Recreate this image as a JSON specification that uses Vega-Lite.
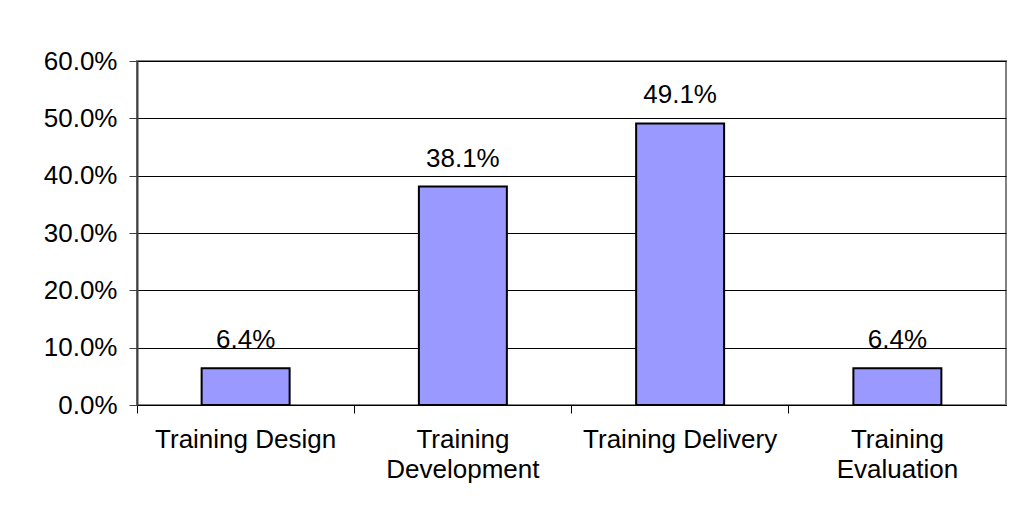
{
  "$schema": "https://vega.github.io/schema/vega-lite/v6.json",
  "autosize": "none",
  "width": 869,
  "height": 344,
  "padding": {"left": 137, "top": 61, "right": 18, "bottom": 120},
  "background": "white",
  "config": {
    "font": "Liberation Sans",
    "view": {"stroke": "#808080", "strokeWidth": 2},
    "axis": {
      "labelFont": "Liberation Sans",
      "labelFontSize": 26,
      "labelColor": "black",
      "titleFont": "Liberation Sans"
    }
  },
  "data": {
    "values": [
      {"category": "Training Design", "share": 0.064},
      {"category": "Training Development", "share": 0.381},
      {"category": "Training Delivery", "share": 0.491},
      {"category": "Training Evaluation", "share": 0.064}
    ]
  },
  "encoding": {
    "x": {
      "field": "category",
      "type": "nominal",
      "sort": null,
      "scale": {"paddingInner": 0, "paddingOuter": 0},
      "axis": {
        "title": null,
        "labelAngle": 0,
        "labelLimit": 0,
        "labelPadding": 13,
        "labelLineHeight": 30,
        "labelBaseline": "top",
        "labelExpr": "length(datum.label) > 17 ? split(datum.label, ' ') : datum.label",
        "bandPosition": 0,
        "tickSize": 8,
        "tickColor": "black",
        "tickWidth": 1,
        "domainColor": "black",
        "domainWidth": 1,
        "grid": false
      }
    },
    "y": {
      "field": "share",
      "type": "quantitative",
      "scale": {"domain": [0, 0.6], "nice": false},
      "axis": {
        "title": null,
        "values": [0, 0.1, 0.2, 0.3, 0.4, 0.5, 0.6],
        "format": ".1%",
        "labelPadding": 12,
        "tickSize": 8,
        "tickColor": "#404040",
        "tickWidth": 1,
        "domainColor": "#404040",
        "domainWidth": 2,
        "grid": true,
        "gridColor": "black",
        "gridWidth": 1,
        "gridOpacity": 1
      }
    }
  },
  "layer": [
    {
      "mark": {"type": "bar", "width": {"band": 0.405}, "fill": "#9999FF", "stroke": "black", "strokeWidth": 2}
    },
    {
      "mark": {"type": "text", "dy": -20, "baseline": "alphabetic", "fontSize": 26, "color": "black", "font": "Liberation Sans"},
      "encoding": {
        "text": {"field": "share", "type": "quantitative", "format": ".1%"}
      }
    }
  ]
}
